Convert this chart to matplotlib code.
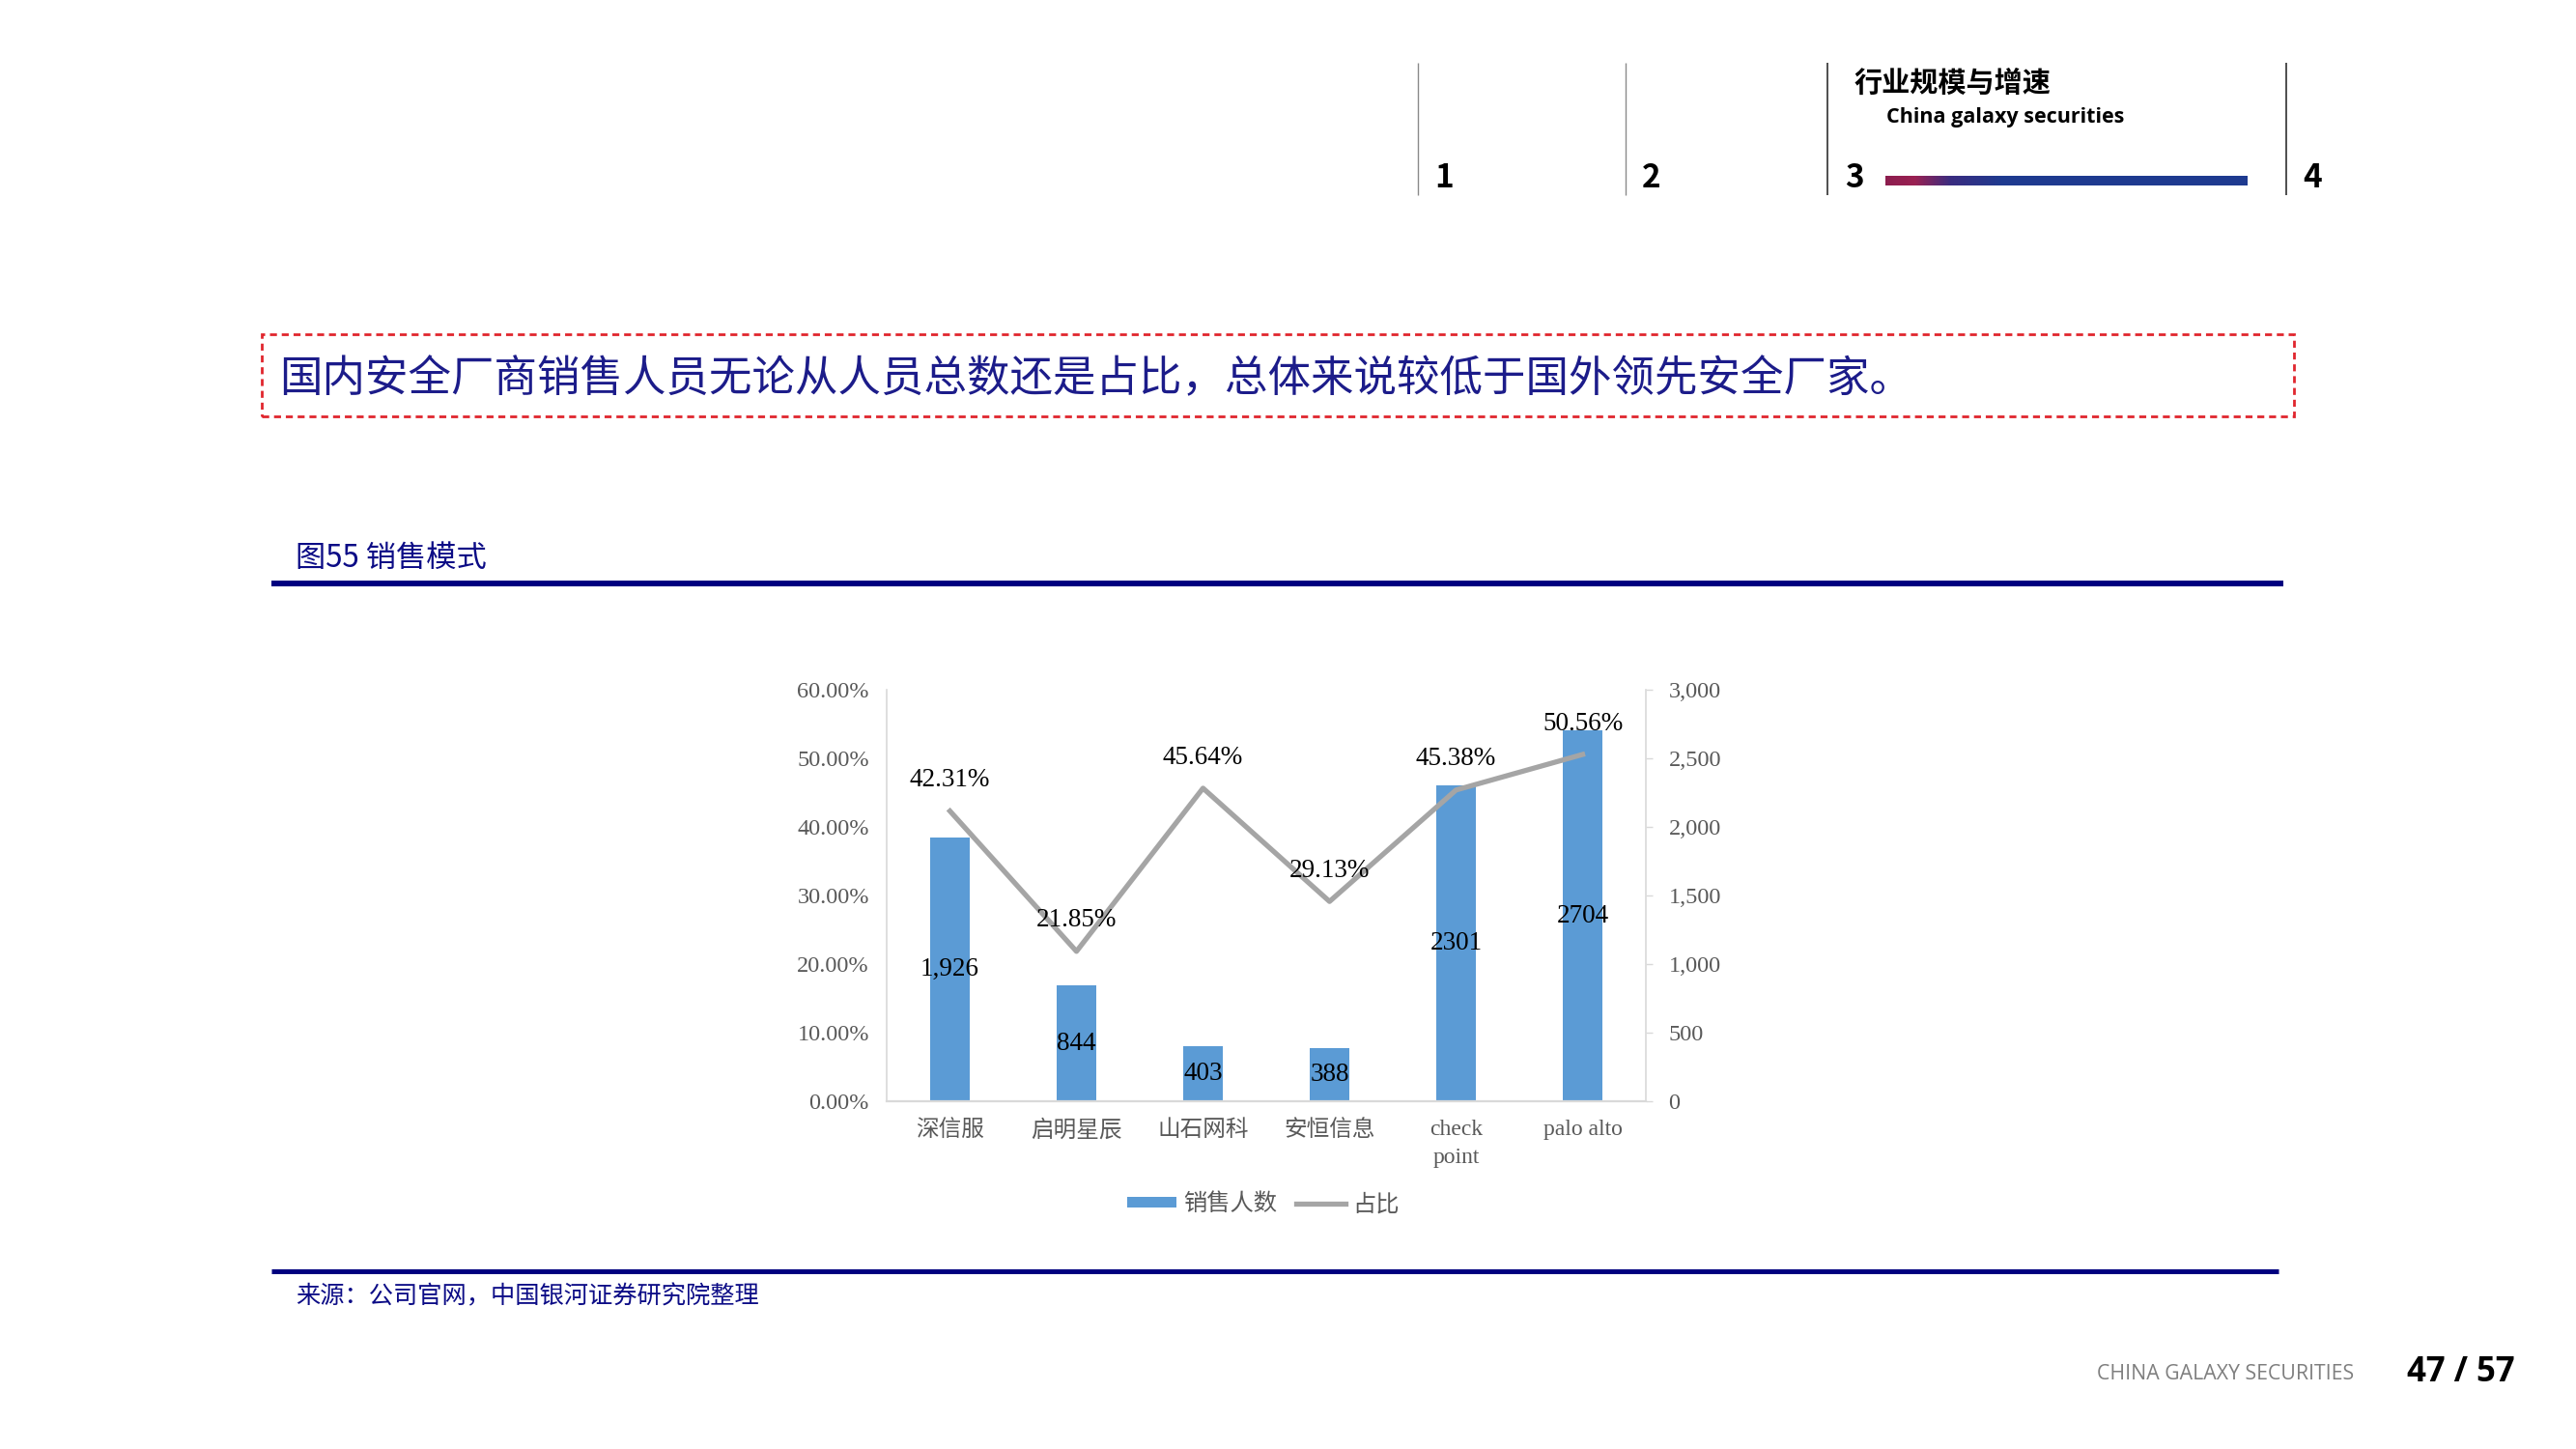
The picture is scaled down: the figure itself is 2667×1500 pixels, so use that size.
import numpy as np
import matplotlib

matplotlib.use("Agg")
import matplotlib.pyplot as plt
from matplotlib.lines import Line2D
from matplotlib.patches import Patch, Rectangle
from matplotlib.colors import to_rgb

plt.rcParams["font.family"] = ["Noto Sans CJK SC", "DejaVu Sans"]

# ---- data ----
categories = ["深信服", "启明星辰", "山石网科", "安恒信息", "check\npoint", "palo alto"]
sales_staff = [1926, 844, 403, 388, 2301, 2704]
staff_labels = ["1,926", "844", "403", "388", "2301", "2704"]
sales_share = [42.31, 21.85, 45.64, 29.13, 45.38, 50.56]
share_ticks = [0, 10, 20, 30, 40, 50, 60]
staff_ticks = [0, 500, 1000, 1500, 2000, 2500, 3000]

W, H = 2667, 1500
NAVY = "#0c0c86"
BAR = "#5b9bd5"
LINE = "#a5a5a5"
GREY_TXT = "#595959"
CHART_FONT = ["Liberation Serif", "Noto Sans CJK SC"]


def fx(x):
    return x / W


def fy(y):
    return 1 - y / H


def hline(fig, x0, x1, y, color, lw):
    fig.add_artist(Line2D([fx(x0), fx(x1)], [fy(y), fy(y)], transform=fig.transFigure,
                          color=color, lw=lw, solid_capstyle="butt"))


def vline(fig, x, y0, y1, color, lw):
    fig.add_artist(Line2D([fx(x), fx(x)], [fy(y0), fy(y1)], transform=fig.transFigure,
                          color=color, lw=lw, solid_capstyle="butt"))


fig = plt.figure(figsize=(W / 100, H / 100), dpi=100, facecolor="white")

# ---- header navigation ----
for x, c, lw in ((1468, "#8a8a8a", 1.0), (1683, "#8a8a8a", 1.0), (1892, "#404040", 1.3), (2367, "#404040", 1.3)):
    vline(fig, x, 65, 202, c, lw)
for x, s in ((1485, "1"), (1700, "2"), (1910, "3"), (2384, "4")):
    fig.text(fx(x), fy(194), s, fontsize=24, fontweight="bold", color="black",
             ha="left", va="baseline")
fig.text(fx(1920), fy(86), "行业规模与增速", fontsize=21, fontweight="bold",
         color="black", ha="left", va="center")
fig.text(fx(1953), fy(122), "China galaxy securities", fontsize=15.5, fontweight="bold",
         color="black", ha="left", va="center", family=["Open Sans", "DejaVu Sans"])

grad_ax = fig.add_axes([fx(1952), fy(192), fx(2327) - fx(1952), 10 / H])
stops = [0.0, 0.08, 0.18, 0.32, 1.0]
stop_cols = [to_rgb(c) for c in ("#8c1d4e", "#9a2152", "#3a2c80", "#1f3a8f", "#1e3b90")]
pos = np.linspace(0, 1, 400)
grad = np.stack([np.interp(pos, stops, [c[i] for c in stop_cols]) for i in range(3)], axis=-1)
grad_ax.imshow(grad[None, :, :], aspect="auto", extent=(0, 1, 0, 1))
grad_ax.set_axis_off()

# ---- key message box ----
fig.add_artist(Rectangle((fx(271), fy(431)), fx(2375) - fx(271), (431 - 346) / H,
                         transform=fig.transFigure, fill=False, edgecolor="#e0262e",
                         lw=2.0, linestyle=(0, (2.6, 1.8))))
fig.text(fx(289), fy(392), "国内安全厂商销售人员无论从人员总数还是占比，总体来说较低于国外领先安全厂家。",
         fontsize=32, color="#1c1c8a", ha="left", va="center")

# ---- figure caption ----
fig.text(fx(306), fy(578), "图55 销售模式", fontsize=22.5, color=NAVY, ha="left", va="center")
hline(fig, 281, 2364, 604, "#00007f", 4.3)
hline(fig, 281, 2359, 1316, "#00007f", 3.6)
fig.text(fx(306), fy(1342), "来源：公司官网，中国银河证券研究院整理", fontsize=18.2,
         color=NAVY, ha="left", va="center", style="italic")

# ---- footer ----
fig.text(fx(2171), fy(1423), "CHINA GALAXY SECURITIES", fontsize=15.3, color="#7f7f7f",
         ha="left", va="center", family=["Open Sans", "DejaVu Sans"])
fig.text(fx(2492), fy(1421), "47 / 57", fontsize=25, fontweight="bold", color="black",
         ha="left", va="center", family=["Open Sans", "DejaVu Sans"])

# ---- chart ----
ax = fig.add_axes([fx(918), fy(1140), fx(1704) - fx(918), (1140 - 714) / H])
x = np.arange(len(categories))
bars = ax.bar(x, sales_staff, width=0.31, color=BAR, zorder=2)
ax.set_ylim(0, 3000)
ax.set_xlim(-0.5, len(categories) - 0.5)
ax.set_xticks(x)
ax.set_xticklabels(categories, family=CHART_FONT, fontsize=17, color=GREY_TXT, linespacing=1.45)
ax.tick_params(axis="x", length=0, pad=14)
for side in ("top", "left"):
    ax.spines[side].set_visible(False)
for side in ("right", "bottom"):
    ax.spines[side].set_color("#d9d9d9")
    ax.spines[side].set_linewidth(1.2)
ax.spines["bottom"].set_linewidth(1.6)
for rect, lab in zip(bars, staff_labels):
    ax.text(rect.get_x() + rect.get_width() / 2, rect.get_height() / 2, lab,
            ha="center", va="center", fontsize=19.5, family=CHART_FONT, color="black", zorder=5)

ax2 = ax.twinx()
ax2.plot(x, sales_share, color=LINE, lw=3.8, zorder=3)
ax2.set_ylim(0, 60)
ax2.yaxis.tick_left()
ax2.set_yticks(share_ticks)
ax2.set_yticklabels([f"{v:.2f}%" for v in share_ticks], family=CHART_FONT, fontsize=17.5, color=GREY_TXT)
ax2.tick_params(axis="y", length=0, pad=13)
for side in ("top", "right", "bottom"):
    ax2.spines[side].set_visible(False)
ax2.spines["left"].set_color("#d9d9d9")
ax2.spines["left"].set_linewidth(1.2)
for xi, v in zip(x, sales_share):
    ax2.annotate(f"{v:.2f}%", (xi, v), xytext=(0, 23), textcoords="offset points",
                 ha="center", va="center", fontsize=19.5, family=CHART_FONT, color="black")

# twinx moves the primary ticks to the left, so put the count axis back on the right
ax.yaxis.tick_right()
ax.yaxis.set_label_position("right")
ax.set_yticks(staff_ticks)
ax.set_yticklabels([f"{v:,}" for v in staff_ticks], family=CHART_FONT, fontsize=17.5, color=GREY_TXT)
ax.tick_params(axis="y", which="both", left=False, right=True, labelleft=False, labelright=True,
               length=5, width=1, color="#d9d9d9", pad=12)

handles = [Patch(facecolor=BAR, edgecolor="none"), Line2D([0], [0], color=LINE, lw=3.8)]
fig.legend(handles, ["销售人数", "占比"], loc="center", bbox_to_anchor=(fx(1308), fy(1247)),
           ncol=2, frameon=False, prop={"family": CHART_FONT, "size": 17.5},
           handlelength=2.1, handleheight=0.35, handletextpad=0.3, columnspacing=0.8,
           labelcolor=GREY_TXT)

fig.savefig("out.png", dpi=100, facecolor="white")
